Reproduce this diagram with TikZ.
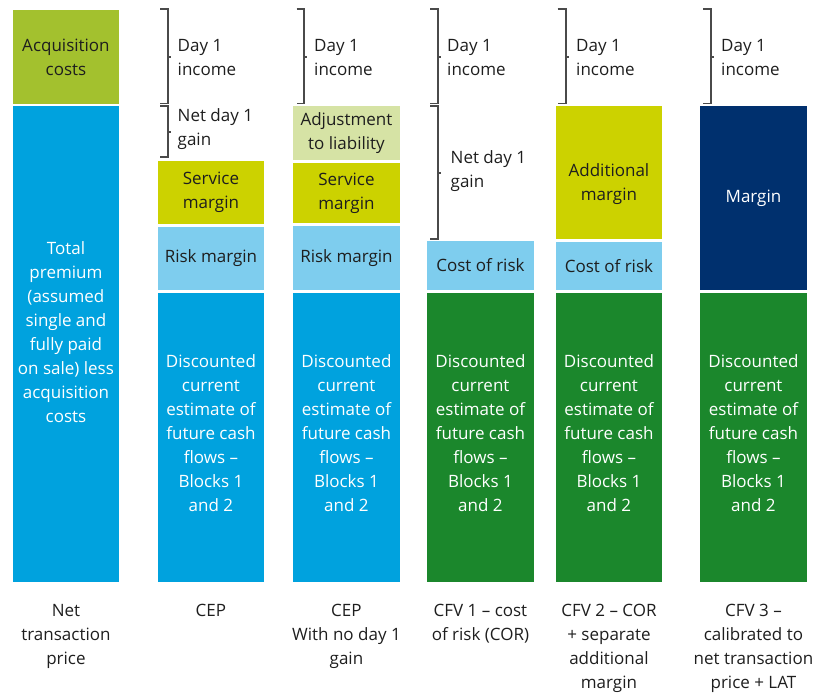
\documentclass[tikz,border=0pt]{standalone}
\usepackage{fontspec}
\setmainfont{Open Sans}
\definecolor{acqgreen}{HTML}{A3C12E}
\definecolor{premblue}{HTML}{00A2DE}
\definecolor{riskblue}{HTML}{7ECDEE}
\definecolor{servyellow}{HTML}{CCD200}
\definecolor{adjgreen}{HTML}{D6E3A5}
\definecolor{cfgreen}{HTML}{1B872C}
\definecolor{marginnavy}{HTML}{00306E}
\definecolor{txtdark}{HTML}{1E1E1E}
\definecolor{brkgrey}{HTML}{4A4A4A}

\begin{document}
\begin{tikzpicture}[x=1pt,y=-1pt,every node/.style={align=center,font=\fontsize{17}{24}\selectfont,text=txtdark},
	bar/.style={inner sep=0pt,anchor=north west,minimum width=106.5pt},
	light/.style={text=white},
	brk/.style={draw=brkgrey,line width=1.1pt},
	brktext/.style={anchor=west,align=left,inner sep=0pt},
	caption/.style={anchor=north,inner sep=0pt}]
	\useasboundingbox (0,0) rectangle (824,693);

	% Net transaction price
	\node[bar,fill=acqgreen,minimum height=93.5pt] (acq) at (12.5,10) {Acquisition\\costs};
	\node[bar,fill=premblue,minimum height=476pt,light] (prem) at (12.5,106) {Total\\premium\\(assumed\\single and\\fully paid\\on sale) less\\acquisition\\costs\\\mbox{}};

	% CEP
	\node[bar,fill=servyellow,minimum height=62.5pt] (cepserv) at (157.5,161) {Service\\margin};
	\node[bar,fill=riskblue,minimum height=62.5pt] (ceprisk) at (157.5,227) {Risk margin};
	\node[bar,fill=premblue,minimum height=289pt,light] (cepcf) at (157.5,293) {Discounted\\current\\estimate of\\future cash\\flows --\\Blocks 1\\and 2\\[-14pt]\mbox{}};

	% CEP with no day 1 gain
	\node[bar,fill=adjgreen,minimum height=54pt] (nadj) at (293,106) {Adjustment\\to liability};
	\node[bar,fill=servyellow,minimum height=60pt] (nserv) at (293,163) {Service\\margin};
	\node[bar,fill=riskblue,minimum height=63.5pt] (nrisk) at (293,226) {Risk margin};
	\node[bar,fill=premblue,minimum height=289pt,light] (ncf) at (293,293) {Discounted\\current\\estimate of\\future cash\\flows --\\Blocks 1\\and 2\\[-14pt]\mbox{}};

	% CFV 1
	\node[bar,fill=riskblue,minimum height=49.5pt] (onecor) at (427,240.5) {Cost of risk};
	\node[bar,fill=cfgreen,minimum height=289pt,light] (onecf) at (427,293) {Discounted\\current\\estimate of\\future cash\\flows --\\Blocks 1\\and 2\\[-14pt]\mbox{}};

	% CFV 2
	\node[bar,fill=servyellow,minimum height=133pt] (twoadd) at (555.5,106) {\mbox{}\\[12pt]Additional\\margin};
	\node[bar,fill=riskblue,minimum height=48pt] (twocor) at (555.5,242) {Cost of risk};
	\node[bar,fill=cfgreen,minimum height=289pt,light] (twocf) at (555.5,293) {Discounted\\current\\estimate of\\future cash\\flows --\\Blocks 1\\and 2\\[-14pt]\mbox{}};

	% CFV 3
	\node[bar,fill=marginnavy,minimum height=184.5pt,light] (threemar) at (700,105.5) {Margin};
	\node[bar,fill=cfgreen,minimum height=289pt,light] (threecf) at (700,293) {Discounted\\current\\estimate of\\future cash\\flows --\\Blocks 1\\and 2\\[-14pt]\mbox{}};

	% brackets
	\draw[brk] (160,9) -| (168,103.5) -- (160,103.5);
	\draw[brk] (168,57) -- ++(3,0);
	\node[brktext] (cepday) at (177.5,58) {Day 1\\income};
	\draw[brk] (160,106) -| (168,157) -- (160,157);
	\draw[brk] (168,132) -- ++(3,0);
	\node[brktext] (cepgain) at (177.5,129) {Net day 1\\gain};

	\draw[brk] (296.5,9) -| (304,103.5) -- (296.5,103.5);
	\draw[brk] (304,57) -- ++(3,0);
	\node[brktext] (nday) at (314,58) {Day 1\\income};

	\draw[brk] (430,9) -| (438,103.5) -- (430,103.5);
	\draw[brk] (438,57) -- ++(3,0);
	\node[brktext] (oneday) at (447,58) {Day 1\\income};
	\draw[brk] (430,106) -| (438,239) -- (430,239);
	\draw[brk] (438,173) -- ++(3,0);
	\node[brktext] (onegain) at (450.5,171.5) {Net day 1\\gain};

	\draw[brk] (557.5,9) -| (566,103.5) -- (557.5,103.5);
	\draw[brk] (566,57) -- ++(3,0);
	\node[brktext] (twoday) at (576,58) {Day 1\\income};

	\draw[brk] (703,9) -| (711,103.5) -- (703,103.5);
	\draw[brk] (711,57) -- ++(3,0);
	\node[brktext] (threeday) at (721,58) {Day 1\\income};

	% captions
	\node[caption] (capnet) at (prem.south |- 0,604) {Net\\transaction\\price};
	\node[caption] (capcep) at (cepcf.south |- 0,604) {CEP};
	\node[caption] (capnogain) at (ncf.south |- 0,604) {CEP\\With no day 1\\gain};
	\node[caption] (capone) at (onecf.south |- 0,604) {CFV 1 -- cost\\of risk (COR)};
	\node[caption] (captwo) at (twocf.south |- 0,604) {CFV 2 -- COR\\+ separate\\additional\\margin};
	\node[caption] (capthree) at (threecf.south |- 0,604) {CFV 3 --\\calibrated to\\net transaction\\price + LAT};
\end{tikzpicture}
\end{document}
